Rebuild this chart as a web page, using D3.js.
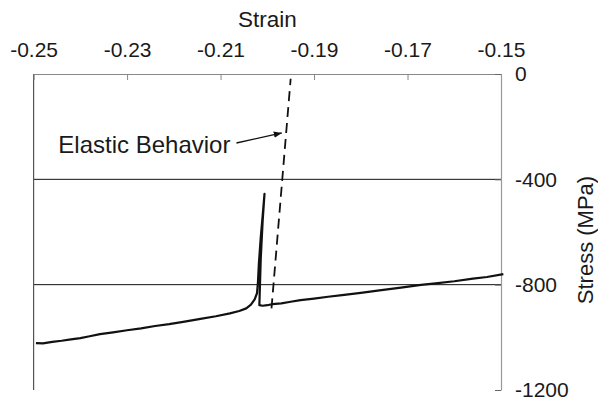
<!DOCTYPE html>
<html>
<head>
<meta charset="utf-8">
<script src="https://cdn.jsdelivr.net/npm/d3@7"></script>
<style>
  body { margin: 0; background: #fff; }
  text { font-family: "Liberation Sans", Arial, sans-serif; fill: #1a1a1a; }
</style>
</head>
<body>
<script>
// stress-strain curve, strain on top axis, stress on right axis

// measured curve
var strainMain = [-0.2495, -0.2480, -0.2460, -0.2440, -0.2420, -0.2400, -0.2380, -0.2358,
  -0.2330, -0.2300, -0.2270, -0.2240, -0.2210, -0.2180, -0.2143, -0.2110, -0.2080,
  -0.2060, -0.2045, -0.2035, -0.2027, -0.2022, -0.2020, -0.2018, -0.2014, -0.2010,
  -0.2006, -0.2010, -0.2014, -0.2016, -0.2017, -0.2010, -0.2000, -0.1989, -0.1970,
  -0.1950, -0.1929, -0.1900, -0.1870, -0.1840, -0.1800, -0.1760, -0.1714, -0.1671,
  -0.1640, -0.1600, -0.1560, -0.1530, -0.1495];
var stressMain = [-1022, -1023, -1017, -1013, -1008, -1003, -996, -988,
  -981, -973, -966, -957, -950, -941, -930, -920, -909,
  -900, -890, -876, -856, -832, -790, -720, -620, -540,
  -455, -560, -700, -820, -878, -880, -878, -874, -871,
  -865, -859, -853, -846, -840, -831, -822, -811, -801,
  -795, -787, -777, -771, -760];

// elastic line (dashed)
var strainElastic = [-0.1991, -0.1950];
var stressElastic = [-890, -18];

// axes
var strainTicks = [-0.25, -0.23, -0.21, -0.19, -0.17, -0.15];
var stressTicks = [0, -400, -800, -1200];
var gridStress = [-400, -800];

// annotation: text end and arrow tip
var noteLabel = "Elastic Behavior";
var noteFrom = [-0.2066, -262];
var noteTo = [-0.1969, -224];

var w = 598, h = 401;
var plotLeft = 33.6, plotRight = 501, plotTop = 74, plotBottom = 390;

var svg = d3.select("body").append("svg")
  .attr("width", w)
  .attr("height", h);

var x = d3.scaleLinear().domain([-0.25, -0.15]).range([plotLeft, plotRight]);
var y = d3.scaleLinear().domain([-1200, 0]).range([plotBottom, plotTop]);

// grid lines
svg.selectAll(".grid")
  .data(gridStress)
  .enter().append("line")
  .attr("class", "grid")
  .attr("x1", plotLeft).attr("x2", plotRight)
  .attr("y1", function(d) { return y(d); })
  .attr("y2", function(d) { return y(d); })
  .attr("stroke", "#111")
  .attr("stroke-width", 1);

// left border line
svg.append("line")
  .attr("x1", plotLeft).attr("x2", plotLeft)
  .attr("y1", plotTop).attr("y2", plotBottom)
  .attr("stroke", "#555")
  .attr("stroke-width", 1.2);

// top axis (strain)
var xAxis = svg.append("g")
  .attr("transform", "translate(0," + plotTop + ")")
  .call(d3.axisTop(x).tickValues(strainTicks).tickFormat(function(d) { return d.toFixed(2); })
    .tickSizeInner(-6).tickSizeOuter(0).tickPadding(17));
xAxis.select(".domain").attr("stroke", "#888").attr("stroke-width", 1.2);
xAxis.selectAll(".tick line").attr("stroke", "#888");
xAxis.selectAll("text").style("font-size", "21px").attr("fill", "#1a1a1a");

// right axis (stress)
var yAxis = svg.append("g")
  .attr("transform", "translate(" + plotRight + ",0)")
  .call(d3.axisRight(y).tickValues(stressTicks).tickFormat(function(d) { return String(d); })
    .tickSizeInner(-6).tickSizeOuter(0).tickPadding(14));
yAxis.select(".domain").attr("stroke", "#999").attr("stroke-width", 1.2);
yAxis.selectAll(".tick line").attr("stroke", "#666");
yAxis.selectAll("text").style("font-size", "21px").attr("fill", "#1a1a1a");

// axis titles
svg.append("text")
  .attr("x", (plotLeft + plotRight) / 2)
  .attr("y", 27)
  .attr("text-anchor", "middle")
  .style("font-size", "22.5px")
  .text("Strain");

svg.append("text")
  .attr("transform", "translate(593," + 240 + ") rotate(-90)")
  .attr("text-anchor", "middle")
  .style("font-size", "22px")
  .text("Stress (MPa)");

// elastic line
svg.append("path")
  .datum(d3.zip(strainElastic, stressElastic))
  .attr("fill", "none")
  .attr("stroke", "#111")
  .attr("stroke-width", 1.8)
  .attr("stroke-dasharray", "10,6")
  .attr("d", d3.line().x(function(d) { return x(d[0]); }).y(function(d) { return y(d[1]); }));

// measured curve
svg.append("path")
  .datum(d3.zip(strainMain, stressMain))
  .attr("fill", "none")
  .attr("stroke", "#111")
  .attr("stroke-width", 2.2)
  .attr("stroke-linejoin", "round")
  .attr("d", d3.line().x(function(d) { return x(d[0]); }).y(function(d) { return y(d[1]); }));

// annotation
svg.append("defs").append("marker")
  .attr("id", "arrow")
  .attr("viewBox", "0 0 10 10")
  .attr("refX", 10).attr("refY", 5)
  .attr("markerWidth", 8).attr("markerHeight", 8)
  .attr("markerUnits", "userSpaceOnUse")
  .attr("orient", "auto")
  .append("path")
  .attr("d", "M0,1 L10,5 L0,9 Z")
  .attr("fill", "#111");

svg.append("line")
  .attr("x1", x(noteFrom[0])).attr("y1", y(noteFrom[1]))
  .attr("x2", x(noteTo[0])).attr("y2", y(noteTo[1]))
  .attr("stroke", "#111")
  .attr("stroke-width", 1.3)
  .attr("marker-end", "url(#arrow)");

svg.append("text")
  .attr("x", x(noteFrom[0]) - 6)
  .attr("y", y(noteFrom[1]) + 10)
  .attr("text-anchor", "end")
  .style("font-size", "24px")
  .text(noteLabel);
</script>
</body>
</html>
